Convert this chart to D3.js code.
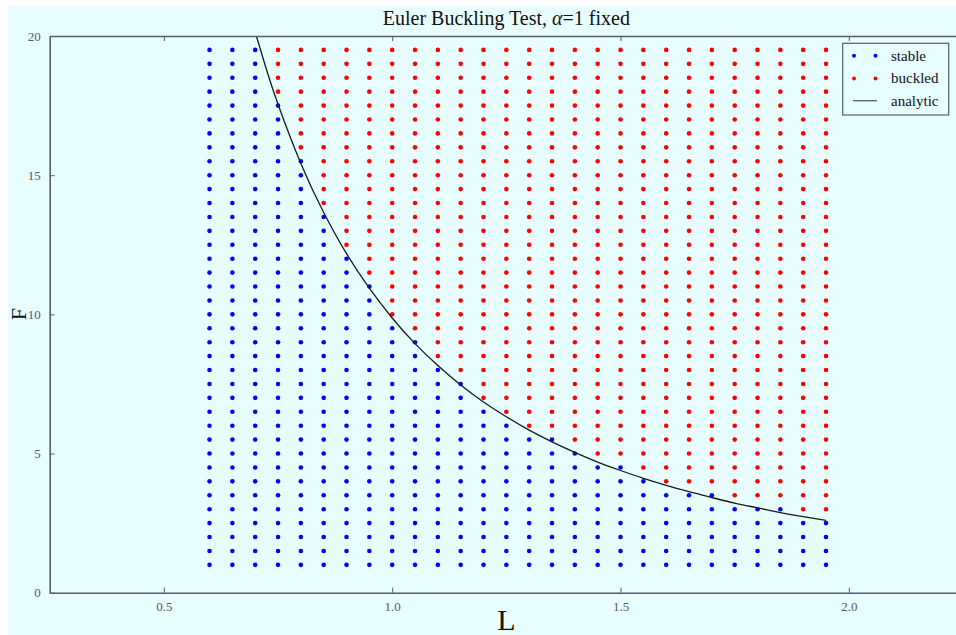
<!DOCTYPE html>
<html>
<head>
<meta charset="utf-8">
<script src="https://cdnjs.cloudflare.com/ajax/libs/d3/7.8.5/d3.min.js"></script>
<style>
  body { margin: 0; background: #fff; }
  svg { display: block; }
  text { font-family: "Liberation Serif", "DejaVu Serif", serif; }
</style>
</head>
<body>
<div id="chart"></div>
<script>
    // grid of test lengths / loads
    var lengths = [0.60, 0.65, 0.70, 0.75, 0.80, 0.85, 0.90, 0.95, 1.00, 1.05, 1.10, 1.15, 1.20, 1.25,
                   1.30, 1.35, 1.40, 1.45, 1.50, 1.55, 1.60, 1.65, 1.70, 1.75, 1.80, 1.85, 1.90, 1.95];
    var forces = [1.0, 1.5, 2.0, 2.5, 3.0, 3.5, 4.0, 4.5, 5.0, 5.5, 6.0, 6.5, 7.0, 7.5, 8.0, 8.5, 9.0, 9.5, 10.0,
                  10.5, 11.0, 11.5, 12.0, 12.5, 13.0, 13.5, 14.0, 14.5, 15.0, 15.5, 16.0, 16.5, 17.0, 17.5,
                  18.0, 18.5, 19.0, 19.5];
    // highest load that stayed stable in each column
    var stableMax = [19.5, 19.5, 19.5, 17.5, 15.5, 13.5, 12.0, 11.0, 9.5, 9.0, 8.0, 7.5, 6.5, 6.0,
                     5.5, 5.5, 5.0, 4.5, 4.5, 4.0, 3.5, 3.5, 3.5, 3.0, 3.0, 3.0, 2.5, 2.5];
    // analytic curve
    var curveL = [0.7025, 0.725, 0.75, 0.80, 0.85, 0.90, 0.95, 1.00, 1.05, 1.10, 1.15, 1.20, 1.25, 1.30,
                  1.35, 1.40, 1.45, 1.50, 1.55, 1.60, 1.65, 1.70, 1.75, 1.80, 1.85, 1.90, 1.95];
    var curveF = [20.0, 18.78, 17.55, 15.42, 13.66, 12.18, 10.94, 9.87, 8.95, 8.16, 7.46, 6.85, 6.32, 5.84,
                  5.42, 5.04, 4.69, 4.39, 4.11, 3.86, 3.63, 3.42, 3.22, 3.05, 2.88, 2.73, 2.60];
    var xTicks = [0.5, 1.0, 1.5, 2.0];
    var yTicks = [0, 5, 10, 15, 20];
    var legendItems = ["stable", "buckled", "analytic"];

    var W = 956, H = 635;
    var bg = "#e8fdfd", spine = "#575d70";
    var mLeft = 49.7, mRight = 963, mTop = 36, mBottom = 592.7;

    var svg = d3.select("#chart").append("svg").attr("width", W).attr("height", H);
    svg.append("rect").attr("x", 8).attr("y", 6).attr("width", W - 8).attr("height", H - 6).style("fill", bg);

    var x = d3.scaleLinear().domain([0.25, 2.25]).range([mLeft, mRight]);
    var y = d3.scaleLinear().domain([0, 20]).range([mBottom, mTop]);

    // points
    var pts = [];
    lengths.forEach(function(L, i) {
      forces.forEach(function(F) {
        pts.push({L: L, F: F, stable: F <= stableMax[i]});
      });
    });

    var plot = svg.append("g");
    plot.selectAll("circle")
      .data(pts).enter().append("circle")
      .attr("cx", function(d) { return x(d.L); })
      .attr("cy", function(d) { return y(d.F); })
      .attr("r", 2.3)
      .style("fill", function(d) { return d.stable ? "#0000ff" : "#ff0000"; });

    var line = d3.line()
      .x(function(d, i) { return x(curveL[i]); })
      .y(function(d) { return y(d); })
      .curve(d3.curveNatural);
    plot.append("path").datum(curveF)
      .attr("d", line)
      .style("fill", "none").style("stroke", "#1a1a1a").style("stroke-width", 1.3);

    // axes
    var xAxis = svg.append("g").attr("transform", "translate(0," + mBottom + ")")
      .call(d3.axisBottom(x).tickValues(xTicks).tickFormat(d3.format(".1f")).tickSizeInner(-5).tickSizeOuter(0).tickPadding(9));
    var xAxisTop = svg.append("g").attr("transform", "translate(0," + mTop + ")")
      .call(d3.axisTop(x).tickValues(xTicks).tickFormat("").tickSizeInner(-5).tickSizeOuter(0));
    var yAxis = svg.append("g").attr("transform", "translate(" + mLeft + ",0)")
      .call(d3.axisLeft(y).tickValues(yTicks).tickFormat(d3.format("d")).tickSizeInner(-5).tickSizeOuter(0).tickPadding(9));

    [xAxis, xAxisTop, yAxis].forEach(function(a) {
      a.select(".domain").style("stroke", spine).style("stroke-width", 1.6);
      a.selectAll(".tick line").style("stroke", spine).style("stroke-width", 1);
      a.selectAll(".tick text").style("fill", "#55596a").style("font-size", "13px")
        .style("font-family", "'Liberation Serif', serif");
    });

    // labels
    svg.append("text").attr("x", (mLeft + mRight) / 2).attr("y", 25)
      .style("text-anchor", "middle").style("font-size", "20px").style("fill", "#111")
      .html('Euler Buckling Test, <tspan font-style="italic">α</tspan>=1 fixed');
    svg.append("text").attr("x", (mLeft + mRight) / 2).attr("y", 630)
      .style("text-anchor", "middle").style("font-size", "30px").style("fill", "#111")
      .text("L");
    svg.append("text").attr("transform", "translate(26,314) rotate(-90)")
      .style("text-anchor", "middle").style("font-size", "22px").style("fill", "#111")
      .text("F");

    // legend
    var lg = svg.append("g");
    lg.append("rect").attr("x", 842.7).attr("y", 43.3).attr("width", 106).attr("height", 71.7)
      .style("fill", bg).style("stroke", spine).style("stroke-width", 1.2);
    var rowY = [55.7, 78.5, 100.7];
    var legendColors = ["#0000ff", "#ff0000", null];
    legendItems.forEach(function(name, i) {
      if (legendColors[i]) {
        [854, 875.5].forEach(function(px) {
          lg.append("circle").attr("cx", px).attr("cy", rowY[i]).attr("r", 2).style("fill", legendColors[i]);
        });
      } else {
        lg.append("line").attr("x1", 853).attr("x2", 877).attr("y1", rowY[i]).attr("y2", rowY[i])
          .style("stroke", "#575d70").style("stroke-width", 1.3);
      }
      lg.append("text").attr("x", 891).attr("y", rowY[i]).attr("dy", "0.32em")
        .style("font-size", "15px").style("fill", "#111").text(name);
    });
</script>
</body>
</html>
